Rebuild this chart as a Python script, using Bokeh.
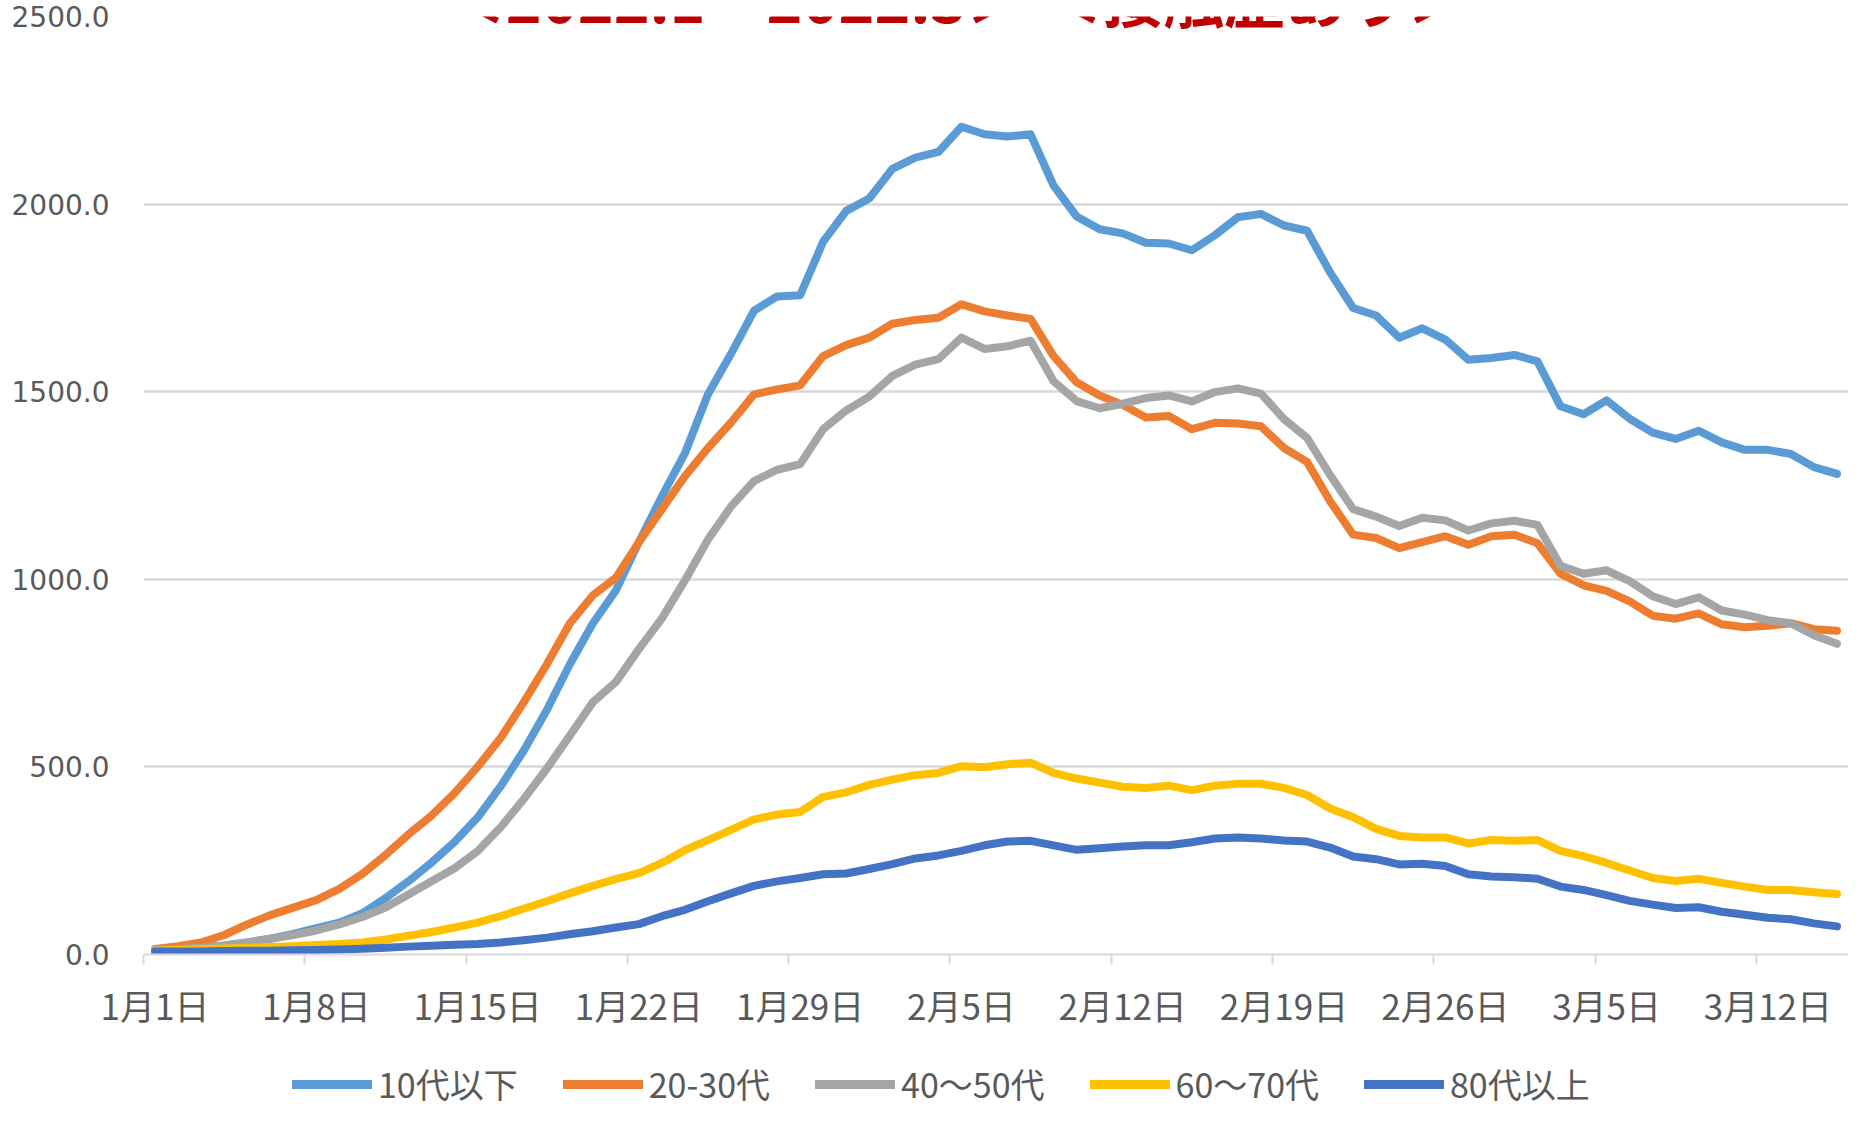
import numpy as np
from bokeh.plotting import figure
from bokeh.layouts import column
from bokeh.models import (Range1d, FixedTicker, NumeralTickFormatter, Legend,
                          LegendItem, Label)
from bokeh.embed import file_html
from bokeh.resources import INLINE

# ---------------- data ----------------
tick_days = [0, 7, 14, 21, 28, 35, 42, 49, 56, 63, 70]
tick_labels = ["1月1日", "1月8日", "1月15日", "1月22日", "1月29日", "2月5日",
               "2月12日", "2月19日", "2月26日", "3月5日", "3月12日"]
y_ticks = [0, 500, 1000, 1500, 2000, 2500]

series_names = ["10代以下", "20-30代", "40～50代", "60～70代", "80代以上"]

age_10 = [12, 15, 18, 24, 32, 42, 55, 70, 85, 110, 150, 195, 245, 300, 365,
          448, 543, 651, 773, 882, 970, 1099, 1221, 1336, 1493, 1601, 1716, 1754, 1757, 1900,
          1982, 2015, 2094, 2124, 2139, 2206, 2186, 2180, 2186, 2049, 1967, 1933, 1922, 1897, 1895,
          1877, 1917, 1965, 1974, 1943, 1929, 1818, 1723, 1703, 1644, 1669, 1639, 1585, 1590, 1598,
          1581, 1461, 1440, 1477, 1428, 1391, 1374, 1396, 1365, 1345, 1345, 1334, 1299, 1281]
age_20_30 = [15, 22, 32, 52, 80, 105, 125, 145, 175, 215, 265, 320, 370, 430, 500,
             577, 672, 773, 882, 957, 1004, 1099, 1187, 1275, 1350, 1418, 1493, 1506, 1517, 1595,
             1624, 1644, 1681, 1691, 1697, 1733, 1714, 1703, 1694, 1595, 1525, 1490, 1465, 1431, 1435,
             1400, 1417, 1415, 1408, 1350, 1313, 1208, 1119, 1110, 1083, 1099, 1115, 1092, 1115, 1119,
             1096, 1015, 984, 969, 941, 903, 895, 909, 880, 872, 876, 883, 867, 863]
age_40_50 = [12, 15, 18, 24, 32, 42, 52, 64, 80, 100, 125, 160, 195, 230, 275,
             339, 414, 495, 583, 672, 726, 814, 896, 997, 1106, 1194, 1262, 1292, 1307, 1400,
             1450, 1487, 1542, 1572, 1587, 1644, 1614, 1621, 1636, 1528, 1475, 1456, 1468, 1483, 1490,
             1474, 1499, 1509, 1495, 1427, 1377, 1278, 1187, 1167, 1142, 1164, 1157, 1130, 1149, 1156,
             1145, 1036, 1015, 1024, 995, 955, 934, 952, 917, 906, 891, 883, 851, 828]
age_60_70 = [10, 12, 14, 16, 18, 20, 22, 25, 28, 32, 40, 50, 60, 72, 85,
             102, 122, 142, 163, 183, 201, 217, 244, 278, 305, 332, 360, 373, 380, 420,
             432, 452, 466, 478, 484, 502, 499, 507, 511, 484, 469, 458, 447, 444, 450,
             438, 450, 455, 455, 444, 425, 389, 366, 335, 316, 312, 312, 296, 305, 303,
             305, 276, 262, 244, 224, 204, 196, 202, 191, 181, 172, 172, 166, 161]
age_80 = [8, 8, 8, 9, 10, 10, 11, 12, 13, 15, 18, 21, 23, 26, 28,
          32, 38, 45, 54, 62, 72, 81, 102, 119, 142, 163, 183, 195, 204, 214,
          216, 228, 241, 256, 264, 276, 291, 301, 303, 291, 279, 283, 288, 291, 291,
          299, 309, 312, 309, 304, 301, 285, 261, 254, 240, 242, 236, 214, 208, 206,
          202, 181, 172, 158, 143, 133, 124, 126, 114, 106, 98, 94, 83, 75]

series = [age_10, age_20_30, age_40_50, age_60_70, age_80]
colors = ["#5B9BD5", "#ED7D31", "#A5A5A5", "#FFC000", "#4472C4"]

title_text = "＜2022.1～2022.3＞ ＜接触歴あり＞"

# ---------------- main chart ----------------
n_days = len(age_10)
x = np.arange(n_days) + 0.5

FONT = "Noto Sans CJK JP"
GRID = "#d9d9d9"
TXT = "#595959"

p = figure(width=1848, height=1032, output_backend="svg", toolbar_location=None,
           x_range=Range1d(0, n_days), y_range=Range1d(0, 2500),
           min_border_left=143, min_border_right=0, min_border_top=16,
           min_border_bottom=76)
p.outline_line_color = None
p.background_fill_color = "white"
p.border_fill_color = "white"

for vals, col in zip(series, colors):
    p.line(x, vals, line_color=col, line_width=8, line_join="round", line_cap="round")

# x axis: labels centered on categories, tick marks between categories
xa = p.xaxis[0]
xa.ticker = FixedTicker(ticks=[d + 0.5 for d in tick_days], minor_ticks=tick_days)
xa.major_label_overrides = {d + 0.5: lab for d, lab in zip(tick_days, tick_labels)}
xa.major_tick_line_color = None
xa.major_tick_in = 0
xa.major_tick_out = 0
xa.minor_tick_line_color = GRID
xa.minor_tick_line_width = 2
xa.minor_tick_in = 0
xa.minor_tick_out = 10
xa.axis_line_color = GRID
xa.axis_line_width = 2
xa.major_label_text_font = FONT
xa.major_label_text_font_size = "35px"
xa.major_label_text_color = TXT
xa.major_label_standoff = 14

ya = p.yaxis[0]
ya.ticker = FixedTicker(ticks=y_ticks, minor_ticks=[])
ya.formatter = NumeralTickFormatter(format="0.0")
ya.axis_line_color = None
ya.major_tick_line_color = None
ya.minor_tick_line_color = None
ya.major_tick_in = 0
ya.major_tick_out = 0
ya.major_label_text_font = "DejaVu Sans"
ya.major_label_text_font_size = "28px"
ya.major_label_text_color = TXT
ya.major_label_standoff = 34

p.xgrid.visible = False
p.ygrid.ticker = FixedTicker(ticks=y_ticks, minor_ticks=[])
p.ygrid.grid_line_color = GRID
p.ygrid.grid_line_width = 2.5

# title on a white band that hides the top of the plot, as in the original
title = Label(x=813, y=958, x_units="screen", y_units="screen", text=title_text,
              text_align="center", text_baseline="alphabetic",
              text_font=FONT, text_font_size="61px", text_font_style="bold",
              text_color="#C00000",
              background_fill_color="white", background_fill_alpha=1.0,
              padding=(378, 378, 0, 0))
p.add_layout(title)

# ---------------- legend strip ----------------
lg = figure(width=1848, height=76, output_backend="svg", toolbar_location=None,
            x_range=Range1d(0, n_days), y_range=Range1d(-2, -1),
            min_border=0, x_axis_location=None, y_axis_location=None)
lg.outline_line_color = None
lg.grid.visible = False
lg.background_fill_color = "white"
lg.border_fill_color = "white"

# same series (kept out of view) so the legend shows their line styles
legend_renderers = [lg.line(x, vals, line_color=col, line_width=9, line_cap="round")
                    for vals, col in zip(series, colors)]
legend = Legend(items=[LegendItem(label=n, renderers=[r])
                       for n, r in zip(series_names, legend_renderers)],
                orientation="horizontal", location=(149, 0),
                label_text_font=FONT, label_text_font_size="34px", label_text_color=TXT,
                glyph_width=80, glyph_height=44, label_standoff=6, spacing=45,
                padding=0, margin=0, border_line_color=None, background_fill_alpha=0)
lg.add_layout(legend)

layout = column(p, lg, spacing=0)
open("out.html", "w").write(file_html(layout, INLINE))
